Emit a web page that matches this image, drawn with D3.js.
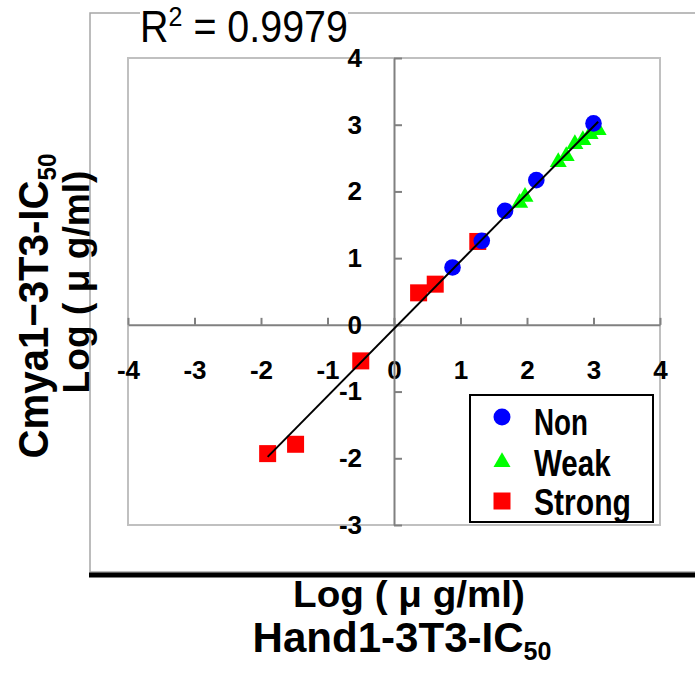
<!DOCTYPE html>
<html>
<head>
<meta charset="utf-8">
<script src="https://cdn.jsdelivr.net/npm/d3@7"></script>
<style>
  html, body { margin: 0; padding: 0; background: #fff; }
  svg { display: block; }
</style>
</head>
<body>
<div id="chart"></div>
<script>
'use strict';

/* Log IC50 values */
const nonX = [0.88, 1.32, 1.67, 2.14, 3.00];
const nonY = [0.86, 1.26, 1.71, 2.17, 3.02];
const weakX = [1.89, 1.97, 2.47, 2.59, 2.72, 2.84, 2.95, 3.07];
const weakY = [1.83, 1.92, 2.44, 2.53, 2.71, 2.77, 2.86, 2.92];
const strongX = [0.37, 0.62, 1.26, -0.50, -1.90, -1.48];
const strongY = [0.48, 0.61, 1.25, -0.54, -1.93, -1.79];

const categories = ['Non', 'Weak', 'Strong'];
const xTicks = [-4, -3, -2, -1, 0, 1, 2, 3, 4];
const yTicks = [-3, -2, -1, 0, 1, 2, 3, 4];
const r2Label = '0.9979';

const W = 695, H = 673;
const FONT = '"Liberation Sans", Arial, sans-serif';

const svg = d3.select('#chart').append('svg').attr('width', W).attr('height', H);

/* squeeze a text group horizontally to a target width (fonts in the source are narrow) */
function squeeze(g, target) {
    const w = g.node().getBBox().width;
    g.attr('transform', g.attr('transform') + ` scale(${target / w},1)`);
}

/* outer chart frame */
svg.append('rect').attr('x', 90).attr('y', 13).attr('width', 640).attr('height', 559)
    .attr('fill', 'none').attr('stroke', '#a6a6a6').attr('stroke-width', 1.5);
svg.append('line').attr('x1', 89).attr('x2', W).attr('y1', 575).attr('y2', 575)
    .attr('stroke', '#000').attr('stroke-width', 5);

const x = d3.scaleLinear().domain([-4, 4]).range([128, 660]);
const y = d3.scaleLinear().domain([-3, 4]).range([525, 58]);
const fmt = d => String(d);   // plain hyphen minus, integers

/* plot area border */
svg.append('rect').attr('x', x(-4)).attr('y', y(4))
    .attr('width', x(4) - x(-4)).attr('height', y(-3) - y(4))
    .attr('fill', 'none').attr('stroke', '#c0c0c0').attr('stroke-width', 2);

/* axes crossing at the origin */
const xAxis = svg.append('g').attr('transform', `translate(0,${y(0)})`)
    .call(d3.axisBottom(x).tickValues(xTicks).tickFormat(fmt)
        .tickSizeInner(-7).tickSizeOuter(0).tickPadding(36));
const yAxis = svg.append('g').attr('transform', `translate(${x(0)},0)`)
    .call(d3.axisLeft(y).tickValues(yTicks).tickFormat(fmt)
        .tickSizeInner(-8).tickSizeOuter(0).tickPadding(32));

[xAxis, yAxis].forEach(a => {
    a.select('.domain').attr('stroke', '#808080').attr('stroke-width', 2);
    a.selectAll('.tick line').attr('stroke', '#808080').attr('stroke-width', 2);
    a.selectAll('.tick text').attr('fill', '#000').style('font-family', FONT)
        .style('font-size', '26px').style('font-weight', 'bold');
});

/* markers */
const sym = (type, size) => d3.symbol().type(type).size(size)();

svg.append('g').selectAll('rect')
    .data(d3.zip(strongX, strongY))
    .join('rect')
    .attr('x', d => x(d[0]) - 8.5).attr('y', d => y(d[1]) - 8.5)
    .attr('width', 17).attr('height', 17).attr('fill', '#ff0000');

svg.append('g').selectAll('path')
    .data(d3.zip(weakX, weakY))
    .join('path')
    .attr('d', sym(d3.symbolTriangle, 125))
    .attr('transform', d => `translate(${x(d[0])},${y(d[1])})`)
    .attr('fill', '#00ff00');

svg.append('g').selectAll('circle')
    .data(d3.zip(nonX, nonY))
    .join('circle')
    .attr('cx', d => x(d[0])).attr('cy', d => y(d[1])).attr('r', 8.3)
    .attr('fill', '#0000ff');

/* least-squares trend line over all points */
const allX = nonX.concat(weakX, strongX);
const allY = nonY.concat(weakY, strongY);
const mx = d3.mean(allX), my = d3.mean(allY);
const slope = d3.sum(allX, (v, i) => (v - mx) * (allY[i] - my)) / d3.sum(allX, v => (v - mx) ** 2);
const icpt = my - slope * mx;
const [x0, x1] = d3.extent(allX);
svg.append('path')
    .datum([x0, x1])
    .attr('d', d3.line().x(v => x(v)).y(v => y(slope * v + icpt)))
    .attr('stroke', '#000').attr('stroke-width', 2).attr('fill', 'none');

/* R squared label */
const r2 = svg.append('g').attr('transform', 'translate(140,42)');
const r2bg = r2.append('rect').attr('fill', '#fff');
const r2t = r2.append('text').style('font-family', FONT).style('font-size', '44px').attr('fill', '#000');
r2t.append('tspan').text('R');
r2t.append('tspan').attr('dy', -16).style('font-size', '28px').text('2');
r2t.append('tspan').attr('dy', 16).text(' = ' + r2Label);
const rb = r2t.node().getBBox();
r2bg.attr('x', rb.x).attr('y', rb.y + 6).attr('width', rb.width).attr('height', rb.height - 10);
squeeze(r2, 208);

/* legend */
const legend = svg.append('g');
legend.append('rect').attr('x', 470).attr('y', 395).attr('width', 183).attr('height', 127)
    .attr('fill', '#fff').attr('stroke', '#000').attr('stroke-width', 2);
const legMarks = [
    { c: '#0000ff', s: d3.symbolCircle, a: 227, cy: 417, w: 54, base: 435 },
    { c: '#00ff00', s: d3.symbolTriangle, a: 125, cy: 462, w: 77, base: 476 },
    { c: '#ff0000', s: d3.symbolSquare, a: 289, cy: 501, w: 97, base: 515 }
];
categories.forEach((name, i) => {
    const m = legMarks[i];
    legend.append('path').attr('d', sym(m.s, m.a))
        .attr('transform', `translate(502,${m.cy})`).attr('fill', m.c);
    const g = legend.append('g').attr('transform', `translate(534,${m.base})`);
    g.append('text').style('font-family', FONT).style('font-size', '37px')
        .style('font-weight', 'bold').attr('fill', '#000').text(name);
    squeeze(g, m.w);
});

/* axis titles */
function title(tx, ty, rot, size, parts, width) {
    const g = svg.append('g').attr('transform', `translate(${tx},${ty}) rotate(${rot})`);
    const t = g.append('text').attr('text-anchor', 'middle').style('font-family', FONT)
        .style('font-size', size + 'px').style('font-weight', 'bold').attr('fill', '#000');
    parts.forEach(p => {
        const s = t.append('tspan').text(p.t);
        if (p.sub) s.style('font-size', Math.round(size * 0.6) + 'px').attr('dy', 8);
    });
    squeeze(g, width);
}

title(48, 306, -90, 43, [{ t: 'Cmya1\u22123T3-IC' }, { t: '50', sub: true }], 305);
title(89, 282, -90, 37, [{ t: 'Log ( \u03bc g/ml)' }], 223);
title(409, 607, 0, 37, [{ t: 'Log ( \u03bc g/ml)' }], 232);
title(402, 652, 0, 42, [{ t: 'Hand1-3T3-IC' }, { t: '50', sub: true }], 299);
</script>
</body>
</html>
